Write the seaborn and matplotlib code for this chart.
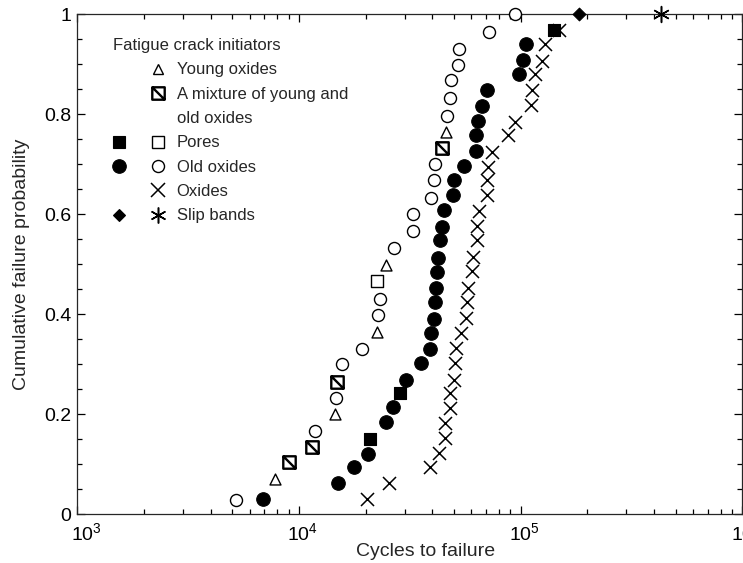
import matplotlib
matplotlib.use("Agg")
import numpy as np
import pandas as pd
import matplotlib.pyplot as plt
import seaborn as sns
from matplotlib.path import Path
from matplotlib.lines import Line2D
from matplotlib.legend_handler import HandlerTuple
from matplotlib.ticker import LogLocator, MultipleLocator, FuncFormatter
from matplotlib.transforms import ScaledTranslation

# ── Data ────────────────────────────────────────────────
# left curve: open symbols
open_cycles = [5200, 7800, 9000, 11500, 11800, 14600, 14700, 14800, 15600, 19200,
               22500, 22800, 23200, 22600, 24800, 26900, 32600, 32700, 39300, 40700,
               41000, 44200, 46300, 46800, 47900, 48700, 52200, 52700, 72000, 94000]
open_prob = [0.029, 0.071, 0.105, 0.135, 0.166, 0.201, 0.233, 0.265, 0.300, 0.331,
             0.365, 0.398, 0.431, 0.467, 0.498, 0.533, 0.567, 0.601, 0.633, 0.668,
             0.701, 0.733, 0.765, 0.797, 0.833, 0.868, 0.899, 0.931, 0.965, 1.0]
open_kind = ["old", "young", "mix", "mix", "old", "young", "old", "mix", "old", "old",
             "young", "old", "old", "pore", "young", "old", "old", "old", "old", "old",
             "old", "mix", "young", "old", "old", "old", "old", "old", "old", "old"]

# middle curve: filled symbols
filled_cycles = [6900, 15000, 17700, 20500, 21000, 24800, 26600, 28600, 30400, 35700,
                 38900, 39600, 40600, 41300, 41700, 41800, 42200, 43200, 44100, 44900,
                 49500, 49900, 55400, 63200, 63200, 64200, 67200, 70500, 98000, 102400,
                 105300, 141000, 184000]
filled_prob = [0.031, 0.063, 0.095, 0.120, 0.151, 0.185, 0.215, 0.243, 0.269, 0.303,
               0.331, 0.363, 0.391, 0.425, 0.452, 0.485, 0.512, 0.548, 0.575, 0.609,
               0.638, 0.668, 0.696, 0.727, 0.758, 0.787, 0.816, 0.848, 0.880, 0.908,
               0.941, 0.968, 1.0]
filled_kind = ["old_f", "old_f", "old_f", "old_f", "pore_f", "old_f", "old_f", "pore_f",
               "old_f", "old_f", "old_f", "old_f", "old_f", "old_f", "old_f", "old_f",
               "old_f", "old_f", "old_f", "old_f", "old_f", "old_f", "old_f", "old_f",
               "old_f", "old_f", "old_f", "old_f", "old_f", "old_f", "old_f", "pore_f",
               "slip_f"]

# right curve: crosses
cross_cycles = [20200, 25400, 39200, 42700, 45800, 45800, 47900, 48200, 50100, 50400,
                51000, 54100, 57000, 57500, 57900, 60600, 61000, 63600, 63600, 64900,
                70500, 70500, 71200, 74600, 87700, 94000, 111700, 112400, 115600, 124700,
                129200, 148800, 430000]
cross_prob = [0.031, 0.063, 0.095, 0.123, 0.153, 0.183, 0.213, 0.243, 0.269, 0.303,
              0.333, 0.363, 0.393, 0.425, 0.453, 0.487, 0.515, 0.548, 0.576, 0.607,
              0.638, 0.668, 0.695, 0.725, 0.758, 0.785, 0.818, 0.849, 0.881, 0.906,
              0.940, 0.968, 1.0]
cross_kind = ["oxide"] * 32 + ["slip"]

# ── Marker styles ───────────────────────────────────────
mix_marker = Path([(-1, -1), (1, -1), (1, 1), (-1, 1), (-1, -1), (-1, 1), (1, -1)],
                  [Path.MOVETO, Path.LINETO, Path.LINETO, Path.LINETO, Path.CLOSEPOLY,
                   Path.MOVETO, Path.LINETO])
asterisk = (6, 2, 0)

# kind -> (marker, size, facecolor, linewidth)
styles = {
    "young": ("^", 62, "white", 1.0),
    "mix": (mix_marker, 80, "white", 1.7),
    "pore": ("s", 75, "white", 1.0),
    "old": ("o", 75, "white", 1.0),
    "pore_f": ("s", 85, "black", 0.8),
    "old_f": ("o", 95, "black", 0.8),
    "slip_f": ("D", 42, "black", 0.8),
    "oxide": ("x", 88, "black", 1.1),
    "slip": (asterisk, 130, "black", 1.1),
}

df = pd.concat([
    pd.DataFrame({"cycles": open_cycles, "prob": open_prob, "kind": open_kind}),
    pd.DataFrame({"cycles": filled_cycles, "prob": filled_prob, "kind": filled_kind}),
    pd.DataFrame({"cycles": cross_cycles, "prob": cross_prob, "kind": cross_kind}),
], ignore_index=True)

# ── Figure ──────────────────────────────────────────────
sns.set_theme(style="ticks")
plt.rcParams["font.family"] = ["Liberation Sans", "DejaVu Sans"]
plt.rcParams["mathtext.fontset"] = "custom"
plt.rcParams["mathtext.rm"] = "Liberation Sans"
plt.rcParams["mathtext.it"] = "Liberation Sans"
plt.rcParams["mathtext.default"] = "regular"

fig, ax = plt.subplots(figsize=(7.43, 5.63), dpi=100)
fig.subplots_adjust(left=0.1036, right=0.9993, bottom=0.0870, top=0.9751)

for kind, (mk, sz, fc, lw) in styles.items():
    sub = df[df["kind"] == kind]
    sns.scatterplot(data=sub, x="cycles", y="prob", marker=mk, s=sz,
                    facecolor=fc, edgecolor="black", linewidth=lw,
                    color="black", clip_on=False, zorder=3, ax=ax, legend=False)

ax.set_xscale("log")
ax.set_xlim(1e3, 1e6)
ax.set_ylim(0, 1)
ax.yaxis.set_major_locator(MultipleLocator(0.2))
ax.yaxis.set_minor_locator(MultipleLocator(0.05))
ax.yaxis.set_major_formatter(FuncFormatter(lambda v, _: f"{v:g}"))
ax.xaxis.set_minor_locator(LogLocator(base=10, subs=np.arange(2, 10)))

for side in ["top", "right", "left", "bottom"]:
    ax.spines[side].set_visible(True)
    ax.spines[side].set_linewidth(0.9)
ax.tick_params(which="both", direction="in", top=True, right=True,
               colors="black", labelsize=14)
ax.tick_params(axis="y", pad=4)
ax.tick_params(axis="x", pad=6)
ax.tick_params(which="major", length=6, width=0.9)
ax.tick_params(which="minor", length=3.5, width=0.9)

ax.set_xlabel("Cycles to failure", fontsize=14)
ax.set_ylabel("Cumulative failure probability", fontsize=14, labelpad=10)
ax.xaxis.set_label_coords(0.524, -0.058)

# ── Legend ──────────────────────────────────────────────
def key(kind):
    if kind is None:
        return Line2D([], [], linestyle="none", marker=None)
    mk, sz, fc, lw = styles[kind]
    return Line2D([], [], linestyle="none", marker=mk, markersize=np.sqrt(sz),
                  markerfacecolor=fc, markeredgecolor="black", markeredgewidth=lw,
                  color="black")

entries = [
    ((None, "young"), "Young oxides"),
    ((None, "mix"), "A mixture of young and"),
    ((None, None), "old oxides"),
    (("pore_f", "pore"), "Pores"),
    (("old_f", "old"), "Old oxides"),
    ((None, "oxide"), "Oxides"),
    (("slip_f", "slip"), "Slip bands"),
]
handles = [(key(a), key(b)) for (a, b), _ in entries]
labels = [lab for _, lab in entries]
leg = ax.legend(handles, labels, title="Fatigue crack initiators",
                handler_map={tuple: HandlerTuple(ndivide=None, pad=1.56)},
                loc="upper left", bbox_to_anchor=(0.054, 0.952),
                frameon=False, fontsize=12, title_fontsize=12,
                handlelength=3.11, handletextpad=0.72, labelspacing=0.56,
                borderpad=0, borderaxespad=0, alignment="left")

# nudge the decade labels to the right a bit, like the original
fig.canvas.draw()
for tick in ax.xaxis.get_major_ticks():
    dx = 9 if np.isclose(tick.get_loc(), 1e3) else 4
    lab = tick.label1
    lab.set_transform(lab.get_transform() + ScaledTranslation(dx / 100, 0, fig.dpi_scale_trans))

fig.savefig("out.png", dpi=100)
